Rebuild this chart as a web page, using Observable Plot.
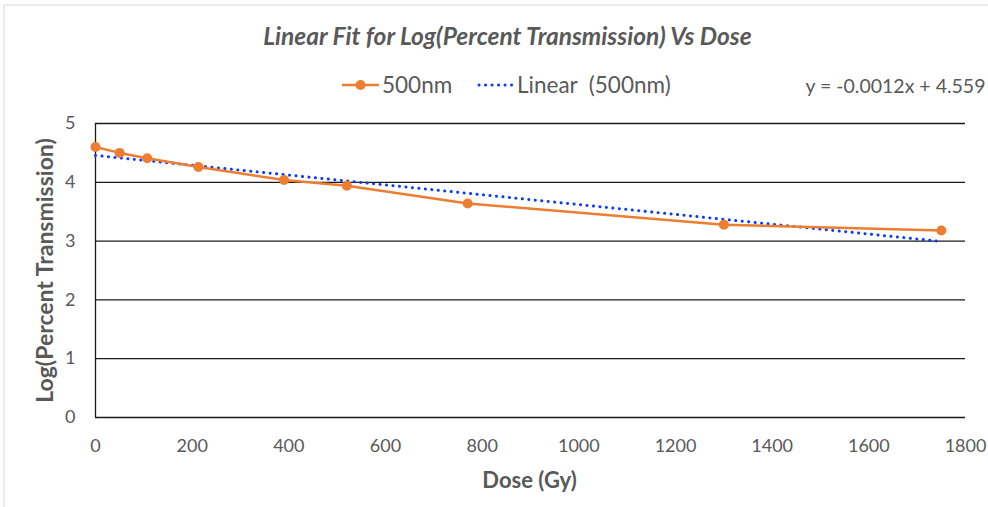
<!DOCTYPE html>
<html>
<head>
<meta charset="utf-8">
<script src="https://cdn.jsdelivr.net/npm/d3@7"></script>
<script src="https://cdn.jsdelivr.net/npm/@observablehq/plot@0.6"></script>
<style>
  html, body { margin: 0; padding: 0; background: #fff; }
  #chart { position: relative; width: 988px; height: 507px; overflow: hidden; }
  #chart svg { display: block; }
</style>
</head>
<body>
<div id="chart"></div>
<script>
const doses = [0, 50, 107, 213, 390, 520, 770, 1300, 1750];
const logT  = [4.60, 4.50, 4.41, 4.26, 4.04, 3.94, 3.64, 3.28, 3.18];
const xTicks = [0, 200, 400, 600, 800, 1000, 1200, 1400, 1600, 1800];
const yTicks = [0, 1, 2, 3, 4, 5];
const titleText = "Linear Fit for Log(Percent Transmission) Vs Dose";
const seriesName = "500nm";
const trendName = "Linear  (500nm)";
const equationText = "y = -0.0012x + 4.559";
const xLabel = "Dose (Gy)";
const yLabel = "Log(Percent Transmission)";

const data = doses.map((d, i) => ({dose: d, v: logT[i]}));
const font = "Lato, 'Open Sans', sans-serif";
const gray = "#595959";
const orange = "#ED7D31";
const blue = "#0A3CF5";

const plot = Plot.plot({
  width: 988,
  height: 507,
  marginLeft: 95,
  marginRight: 23,
  marginTop: 123,
  marginBottom: 90,
  style: {fontFamily: font, background: "#fff", overflow: "visible"},
  x: {domain: [0, 1800], ticks: xTicks, label: null},
  y: {domain: [0, 5], ticks: yTicks, label: null},
  marks: [
    Plot.ruleY(yTicks, {stroke: "#1a1a1a", strokeWidth: 1.3}),
    Plot.ruleX([0], {stroke: "#1a1a1a", strokeWidth: 1.3}),
    Plot.axisX({ticks: xTicks, tickFormat: d => String(d), tickSize: 0, tickPadding: 22, fontSize: 18, fill: gray, label: null}),
    Plot.axisY({ticks: yTicks, tickFormat: d => String(d), tickSize: 0, tickPadding: 20, fontSize: 18, fill: gray, label: null}),
    Plot.linearRegressionY(data, {x: "dose", y: "v", ci: 0, stroke: blue, strokeWidth: 3, strokeDasharray: "0.1,6.4", strokeLinecap: "round"}),
    Plot.line(data, {x: "dose", y: "v", stroke: orange, strokeWidth: 2.5}),
    Plot.dot(data, {x: "dose", y: "v", r: 5, fill: orange, stroke: "none"}),
    // title
    Plot.text([titleText], {frameAnchor: "top", dx: -23, dy: -86, lineAnchor: "middle", textAnchor: "middle", fontSize: 24.5, fontWeight: "bold", fontStyle: "italic", fill: gray}),
    // equation
    Plot.text([equationText], {frameAnchor: "top-right", dx: 20, dy: -37, lineAnchor: "middle", textAnchor: "end", fontSize: 19.5, fill: gray}),
    // axis titles
    Plot.text([xLabel], {frameAnchor: "bottom", dx: -1, dy: 63, lineAnchor: "middle", textAnchor: "middle", fontSize: 22, fontWeight: "bold", fill: gray}),
    Plot.text([yLabel], {frameAnchor: "left", dx: -50, dy: 0, rotate: -90, lineAnchor: "middle", textAnchor: "middle", fontSize: 23, fontWeight: "bold", fill: gray})
  ]
});

// legend drawn inside the SVG
const svg = d3.select(plot);
const lg = svg.append("g").attr("text-anchor", "start");
const ly = 85;
const addText = (x, t) => lg.append("text").attr("x", x).attr("y", ly).attr("dy", "0.35em")
  .style("font-family", font).style("font-size", "22.5px").style("fill", gray)
  .attr("text-anchor", "start").style("white-space", "pre").text(t);
lg.append("line").attr("x1", 342).attr("x2", 379).attr("y1", ly).attr("y2", ly).attr("stroke", orange).attr("stroke-width", 2.5);
lg.append("circle").attr("cx", 360.5).attr("cy", ly).attr("r", 5).attr("fill", orange);
addText(382, seriesName);
lg.append("line").attr("x1", 479).attr("x2", 514).attr("y1", ly).attr("y2", ly).attr("stroke", blue).attr("stroke-width", 3).attr("stroke-dasharray", "0.1,6.4").attr("stroke-linecap", "round");
addText(517, trendName);
// frame edges
svg.append("line").attr("x1", 4).attr("x2", 988).attr("y1", 5).attr("y2", 5).attr("stroke", "#d9d9d9");
svg.append("line").attr("x1", 4).attr("x2", 4).attr("y1", 5).attr("y2", 507).attr("stroke", "#d9d9d9");

document.getElementById("chart").appendChild(plot);
</script>
</body>
</html>
